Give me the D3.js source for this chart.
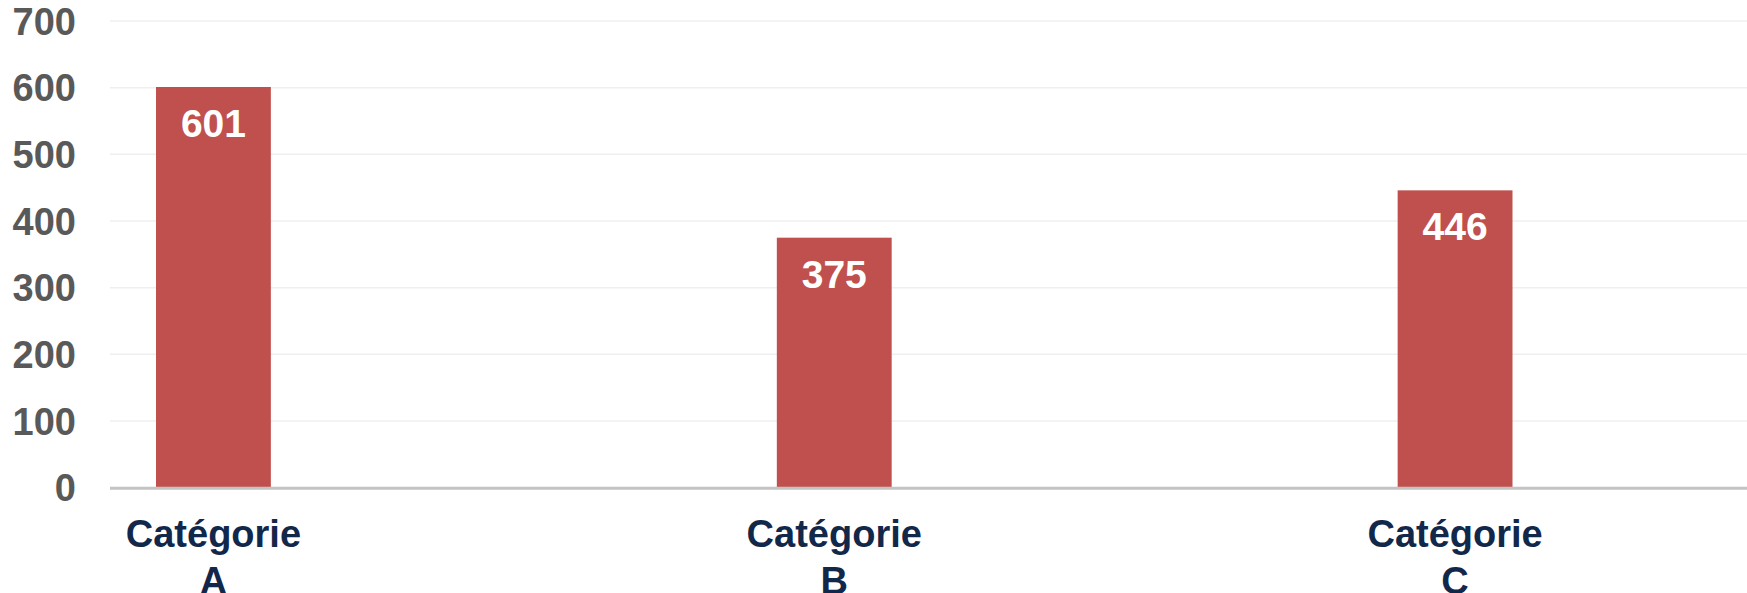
<!DOCTYPE html>
<html>
<head>
<meta charset="utf-8">
<script src="https://cdn.jsdelivr.net/npm/d3@7"></script>
<style>
  html, body { margin: 0; padding: 0; background: #fff; }
  svg { display: block; font-family: "Liberation Sans", Arial, sans-serif; }
</style>
</head>
<body>
<svg id="chart" width="1747" height="593"></svg>
<script>
// Données
const categories = ["Catégorie A", "Catégorie B", "Catégorie C"];
const values = [601, 375, 446];
const yTicks = [0, 100, 200, 300, 400, 500, 600, 700];

const width = 1747, height = 593;
const plotLeft = 110, plotRight = width;
const y0 = 487.7, yTop = 21;

const data = categories.map((c, i) => ({ cat: c, value: values[i] }));

const svg = d3.select("#chart");

// Y scale
const y = d3.scaleLinear().domain([0, 700]).range([y0, yTop]);

// X scale (bands aligned on the bars)
const x = d3
  .scaleBand()
  .domain(categories)
  .range([156, 1512.5])
  .paddingInner(0.815)
  .paddingOuter(0);

// Grid lines
svg
  .append("g")
  .selectAll("line")
  .data(yTicks.filter((d) => d > 0))
  .join("line")
  .attr("x1", plotLeft)
  .attr("x2", plotRight)
  .attr("y1", (d) => y(d))
  .attr("y2", (d) => y(d))
  .attr("stroke", "#efefef")
  .attr("stroke-width", 1.5);

// Y tick labels
svg
  .append("g")
  .selectAll("text")
  .data(yTicks)
  .join("text")
  .attr("x", 76)
  .attr("y", (d) => y(d))
  .attr("dy", "0.36em")
  .attr("text-anchor", "end")
  .attr("fill", "#595959")
  .attr("font-weight", "bold")
  .style("font-size", "38px")
  .text((d) => d);

// Bars
const bar = svg.append("g").selectAll("g").data(data).join("g");

bar
  .append("rect")
  .attr("x", (d) => x(d.cat))
  .attr("y", (d) => y(d.value))
  .attr("width", x.bandwidth())
  .attr("height", (d) => y(0) - y(d.value))
  .attr("fill", "#c0504d");

bar
  .append("text")
  .attr("x", (d) => x(d.cat) + x.bandwidth() / 2)
  .attr("y", (d) => y(d.value) + 50)
  .attr("text-anchor", "middle")
  .attr("fill", "#fff")
  .attr("font-weight", "bold")
  .style("font-size", "39px")
  .text((d) => d.value);

// Axe X
svg
  .append("line")
  .attr("x1", plotLeft)
  .attr("x2", plotRight)
  .attr("y1", y(0) + 0.5)
  .attr("y2", y(0) + 0.5)
  .attr("stroke", "#c3c3c3")
  .attr("stroke-width", 3);

// Étiquettes des catégories (deux lignes)
const lbl = svg
  .append("g")
  .selectAll("text")
  .data(categories)
  .join("text")
  .attr("text-anchor", "middle")
  .attr("fill", "#12284a")
  .attr("font-weight", "bold")
  .style("font-size", "38px")
  .attr("transform", (d) => `translate(${x(d) + x.bandwidth() / 2}, ${y(0) + 59})`);

lbl
  .selectAll("tspan")
  .data((d) => d.split(" "))
  .join("tspan")
  .attr("x", 0)
  .attr("dy", (d, i) => (i === 0 ? 0 : 47))
  .text((d) => d);
</script>
</body>
</html>
